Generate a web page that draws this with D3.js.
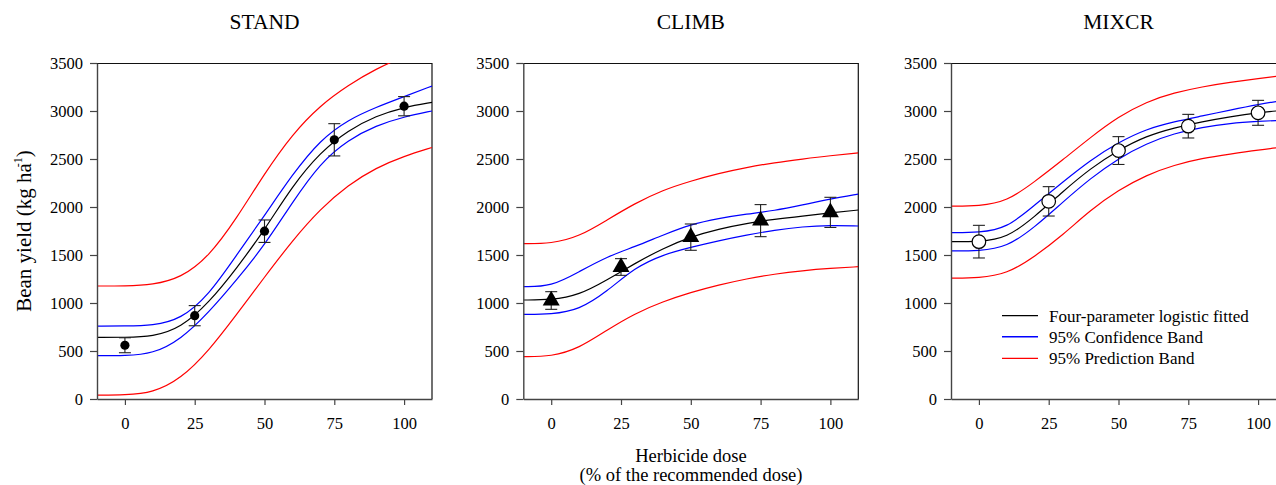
<!DOCTYPE html>
<html>
<head>
<meta charset="utf-8">
<script src="https://cdn.jsdelivr.net/npm/d3@7"></script>
<style>
html,body{margin:0;padding:0;background:#fff;}
svg{display:block;}
text{font-family:"Liberation Serif","Times New Roman",serif;fill:#000;}
</style>
</head>
<body>
<svg id="chart" width="1276" height="485"></svg>
<script>
// ---------- data ----------
const panelTitles = ["STAND", "CLIMB", "MIXCR"];
const doses = [0, 25, 50, 75, 100];
const xTicks = [0, 25, 50, 75, 100];
const yTicks = [0, 500, 1000, 1500, 2000, 2500, 3000, 3500];
const curveX = [-10, 0, 10, 20, 30, 40, 50, 60, 70, 80, 90, 100, 110];

const standMean = [560, 868, 1748, 2700, 3050];
const standErr  = [78, 105, 117, 168, 100];
const standFit  = [642, 642, 650, 740, 1000, 1360, 1760, 2220, 2570, 2800, 2950, 3040, 3090];
const standCiU  = [760, 760, 765, 830, 1080, 1500, 1910, 2340, 2700, 2910, 3040, 3150, 3260];
const standCiL  = [451, 451, 470, 620, 900, 1240, 1600, 2050, 2460, 2700, 2850, 2940, 3000];
const standPiU  = [1177, 1177, 1190, 1260, 1480, 1880, 2350, 2760, 3060, 3270, 3440, 3570, 3660];
const standPiL  = [40, 42, 65, 210, 500, 880, 1270, 1650, 1980, 2230, 2410, 2530, 2620];

const climbMean = [1026, 1375, 1686, 1858, 1944];
const climbErr  = [92, 87, 137, 167, 157];
const climbFit  = [1031, 1031, 1083, 1240, 1413, 1569, 1691, 1771, 1830, 1872, 1906, 1938, 1969];
const climbCiU  = [1170, 1170, 1326, 1483, 1587, 1708, 1819, 1882, 1927, 1962, 2021, 2083, 2135];
const climbCiL  = [882, 882, 927, 1120, 1370, 1503, 1580, 1649, 1708, 1760, 1795, 1809, 1802];
const climbPiU  = [1618, 1618, 1691, 1865, 2038, 2177, 2271, 2351, 2413, 2462, 2500, 2535, 2563];
const climbPiL  = [441, 441, 528, 719, 892, 1014, 1111, 1188, 1253, 1302, 1337, 1361, 1378];

const mixcrMean = [1639, 2059, 2588, 2842, 2981];
const mixcrErr  = [170, 153, 145, 123, 130];
const mixcrFit  = [1639, 1639, 1674, 1899, 2160, 2403, 2594, 2740, 2826, 2889, 2941, 2983, 3010];
const mixcrCiU  = [1733, 1733, 1778, 2021, 2260, 2490, 2674, 2813, 2889, 2948, 3010, 3069, 3115];
const mixcrCiL  = [1542, 1542, 1580, 1790, 2050, 2300, 2507, 2663, 2767, 2830, 2872, 2892, 2906];
const mixcrPiU  = [2010, 2010, 2056, 2264, 2490, 2726, 2941, 3097, 3191, 3253, 3299, 3337, 3375];
const mixcrPiL  = [1260, 1260, 1302, 1483, 1708, 1969, 2177, 2333, 2438, 2507, 2552, 2594, 2628];

const legendLabels = ["Four-parameter logistic fitted", "95% Confidence Band", "95% Prediction Band"];
const yLabel = "Bean yield (kg ha";
const xLabelLines = ["Herbicide dose", "(% of the recommended dose)"];

// ---------- layout ----------
const FONT = '"Liberation Serif","Times New Roman",serif';
const panels = [
  {title: panelTitles[0], left: 97,    mean: standMean, err: standErr, fit: standFit, ciU: standCiU, ciL: standCiL, piU: standPiU, piL: standPiL, marker: "dot"},
  {title: panelTitles[1], left: 523.3, mean: climbMean, err: climbErr, fit: climbFit, ciU: climbCiU, ciL: climbCiL, piU: climbPiU, piL: climbPiL, marker: "tri"},
  {title: panelTitles[2], left: 951,   mean: mixcrMean, err: mixcrErr, fit: mixcrFit, ciU: mixcrCiU, ciL: mixcrCiL, piU: mixcrPiU, piL: mixcrPiL, marker: "open"}
];
const plotW = 335, plotTop = 63, plotBottom = 399;
const svg = d3.select("#chart");
const y = d3.scaleLinear().domain([0, 3500]).range([plotBottom, plotTop]);

panels.forEach((p, i) => {
  const x = d3.scaleLinear().domain([-10, 110]).range([p.left, p.left + plotW]);
  const g = svg.append("g");
  const clipId = "clip" + i;
  svg.append("clipPath").attr("id", clipId).append("rect")
    .attr("x", p.left).attr("y", plotTop).attr("width", plotW).attr("height", plotBottom - plotTop);

  // frame top / right
  g.append("line").attr("x1", p.left).attr("x2", p.left + plotW).attr("y1", plotTop + 0.5).attr("y2", plotTop + 0.5)
    .attr("stroke", "#111").attr("stroke-width", 1.2);
  g.append("line").attr("x1", p.left + plotW).attr("x2", p.left + plotW).attr("y1", plotTop).attr("y2", plotBottom)
    .attr("stroke", "#111").attr("stroke-width", 1.2);

  // curves
  const line = d3.line().x((d, j) => x(curveX[j])).y(d => y(d)).curve(d3.curveBasis);
  const cg = g.append("g").attr("clip-path", `url(#${clipId})`).attr("fill", "none").attr("stroke-width", 1.2);
  [[p.piU, "#ff0000"], [p.piL, "#ff0000"], [p.ciU, "#0000ff"], [p.ciL, "#0000ff"], [p.fit, "#000000"]]
    .forEach(([arr, c]) => cg.append("path").attr("d", line(arr)).attr("stroke", c));

  // axes
  const ax = g.append("g").attr("transform", `translate(0,${plotBottom})`)
    .call(d3.axisBottom(x).tickValues(xTicks).tickFormat(d3.format("d")).tickSize(6).tickSizeOuter(0).tickPadding(12));
  const ay = g.append("g").attr("transform", `translate(${p.left},0)`)
    .call(d3.axisLeft(y).tickValues(yTicks).tickFormat(d3.format("d")).tickSize(7).tickSizeOuter(0).tickPadding(7));
  [ax, ay].forEach(a => {
    a.attr("font-family", FONT).attr("font-size", 16.5);
    a.select(".domain").attr("stroke", "#444").attr("stroke-width", 1.4);
    a.selectAll(".tick line").attr("stroke", "#444").attr("stroke-width", 1.2);
    a.selectAll(".tick text").attr("fill", "#000").attr("font-family", FONT).attr("font-size", 16.5);
  });

  // error bars
  const eg = g.append("g").attr("stroke", "#222").attr("stroke-width", 1.1);
  doses.forEach((dv, j) => {
    const cx = x(dv), y1 = y(p.mean[j] + p.err[j]), y2 = y(p.mean[j] - p.err[j]);
    eg.append("line").attr("x1", cx).attr("x2", cx).attr("y1", y1).attr("y2", y2);
    eg.append("line").attr("x1", cx - 6).attr("x2", cx + 6).attr("y1", y1).attr("y2", y1);
    eg.append("line").attr("x1", cx - 6).attr("x2", cx + 6).attr("y1", y2).attr("y2", y2);
  });

  // markers
  const mg = g.append("g");
  doses.forEach((dv, j) => {
    const cx = x(dv), cy = y(p.mean[j]);
    if (p.marker === "dot") {
      mg.append("circle").attr("cx", cx).attr("cy", cy).attr("r", 4.6).attr("fill", "#000");
    } else if (p.marker === "tri") {
      mg.append("path").attr("d", d3.symbol(d3.symbolTriangle, 125)()).attr("transform", `translate(${cx},${cy})`).attr("fill", "#000");
    } else {
      mg.append("circle").attr("cx", cx).attr("cy", cy).attr("r", 6.8).attr("fill", "#fff").attr("stroke", "#000").attr("stroke-width", 1.2);
    }
  });

  // title
  g.append("text").attr("x", p.left + plotW / 2).attr("y", 28.5).attr("text-anchor", "middle")
    .style("font-size", "21.5px").text(p.title);
});

// y label
const yl = svg.append("text").attr("transform", "translate(31,231) rotate(-90)").attr("text-anchor", "middle")
  .style("font-size", "21px");
yl.append("tspan").text(yLabel);
yl.append("tspan").attr("dy", -9).attr("dx", -4).style("font-size", "12px").text("-1");
yl.append("tspan").attr("dy", 9).text(")");

// x label
svg.append("text").attr("x", 691).attr("y", 462).attr("text-anchor", "middle").style("font-size", "18.5px").text(xLabelLines[0]);
svg.append("text").attr("x", 691).attr("y", 480.5).attr("text-anchor", "middle").style("font-size", "18.5px").text(xLabelLines[1]);

// legend
const lg = svg.append("g");
[["#000000", 315.7], ["#0000ff", 336.7], ["#ff0000", 358.3]].forEach(([c, yy], k) => {
  lg.append("line").attr("x1", 1002).attr("x2", 1038).attr("y1", yy).attr("y2", yy)
    .attr("stroke", c).attr("stroke-width", k === 1 ? 1.6 : 1.2);
  lg.append("text").attr("x", 1049).attr("y", yy + 6).style("font-size", "17px").text(legendLabels[k]);
});
</script>
</body>
</html>
